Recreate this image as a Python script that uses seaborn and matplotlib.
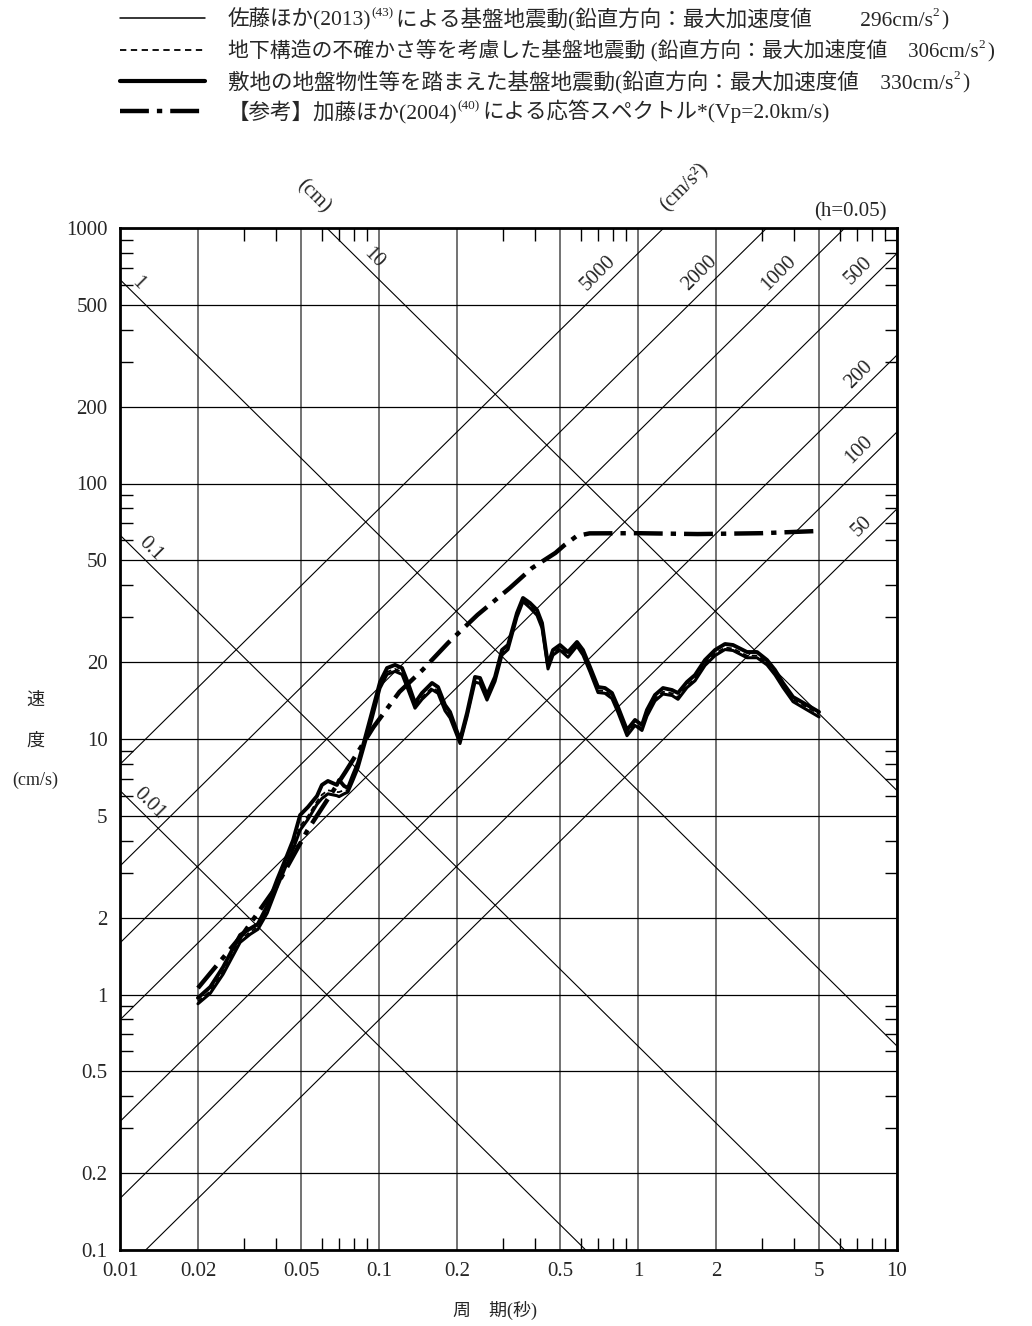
import numpy as np
import pandas as pd
import matplotlib
matplotlib.use("Agg")
import matplotlib.pyplot as plt
import seaborn as sns
from matplotlib.lines import Line2D
from matplotlib.ticker import NullFormatter

# ---------------- data ----------------
period = [0.020, 0.0223, 0.0250, 0.0291, 0.0318, 0.0341, 0.0370, 0.0404, 0.0441, 0.0466,
          0.0496, 0.0532, 0.0576, 0.0602, 0.0635, 0.0688, 0.0701, 0.0733, 0.0759, 0.0794,
          0.0830, 0.0875, 0.0940, 0.1009, 0.1074, 0.1153, 0.1227, 0.1294, 0.1377, 0.1466,
          0.1602, 0.1690, 0.1798, 0.1880, 0.2055, 0.2187, 0.2348, 0.2455, 0.2612, 0.2805,
          0.2985, 0.3149, 0.3410, 0.3597, 0.3828, 0.4074, 0.4259, 0.4493, 0.4697, 0.4996,
          0.5366, 0.5813, 0.6132, 0.6527, 0.7008, 0.7456, 0.7933, 0.8370, 0.9067, 0.9736,
          1.036, 1.083, 1.163, 1.249, 1.353, 1.427, 1.546, 1.660, 1.814, 1.983,
          2.167, 2.327, 2.635, 2.881, 3.149, 3.381, 3.629, 3.968, 4.493, 5.0]

sv_site_330 = [0.97, 1.07, 1.28, 1.71, 1.81, 1.89, 2.22, 2.81, 3.49, 4.02,
               5.04, 5.42, 5.98, 6.61, 6.85, 6.61, 6.91, 6.55, 6.43, 7.23,
               8.06, 9.73, 12.76, 16.7, 18.96, 19.5, 18.96, 16.57, 13.83, 15.14,
               16.57, 15.97, 13.59, 12.76, 9.91, 12.64, 17.49, 17.33, 14.87, 17.49,
               22.30, 23.33, 31.13, 35.64, 34.07, 31.99, 28.44, 19.48, 22.30, 23.33,
               21.90, 23.97, 22.30, 19.13, 15.97, 15.83, 15.14, 13.34, 10.84, 11.87,
               11.34, 12.99, 14.87, 15.83, 15.55, 15.14, 16.72, 17.80, 20.38, 22.30,
               23.54, 23.33, 21.90, 21.90, 20.38, 18.62, 16.57, 14.60, 13.59, 12.76]

sv_sato_296 = [0.92, 1.01, 1.20, 1.60, 1.72, 1.80, 2.08, 2.62, 3.25, 3.70,
               4.40, 4.85, 5.55, 5.85, 6.10, 6.00, 5.95, 6.10, 6.20, 6.90,
               7.70, 9.30, 12.0, 15.8, 17.9, 18.4, 17.9, 15.6, 13.2, 14.3,
               15.6, 15.1, 12.9, 12.1, 9.6, 12.2, 16.7, 16.5, 14.2, 16.8,
               21.3, 22.4, 30.0, 34.5, 32.6, 30.5, 27.2, 18.8, 21.3, 22.3,
               20.9, 23.1, 21.3, 18.3, 15.2, 15.1, 14.4, 12.7, 10.3, 11.3,
               10.8, 12.3, 14.1, 15.0, 14.8, 14.3, 15.9, 16.9, 19.4, 21.2,
               22.4, 22.2, 20.8, 20.8, 19.5, 17.8, 15.9, 14.0, 13.0, 12.2]

sv_uncert_306 = [0.94, 1.03, 1.23, 1.64, 1.76, 1.84, 2.13, 2.69, 3.33, 3.80,
                 4.55, 5.00, 5.70, 6.05, 6.30, 6.20, 6.20, 6.30, 6.30, 7.05,
                 7.85, 9.50, 12.4, 16.1, 18.3, 18.8, 18.3, 15.9, 13.5, 14.6,
                 15.9, 15.4, 13.2, 12.4, 9.8, 12.4, 17.0, 16.8, 14.5, 17.1,
                 21.7, 22.8, 30.6, 35.1, 33.2, 31.1, 27.7, 19.1, 21.7, 22.7,
                 21.3, 23.5, 21.7, 18.6, 15.5, 15.4, 14.7, 12.9, 10.5, 11.5,
                 11.0, 12.6, 14.4, 15.3, 15.1, 14.6, 16.2, 17.2, 19.8, 21.6,
                 22.8, 22.6, 21.2, 21.2, 19.9, 18.2, 16.2, 14.3, 13.3, 12.5]

kato_period = [0.02, 0.03, 0.04, 0.053, 0.074, 0.095, 0.12, 0.147, 0.185, 0.24,
               0.32, 0.39, 0.48, 0.52, 0.58, 0.65, 1.0, 1.7, 3.0, 5.0]
kato_sv = [1.06, 1.74, 2.63, 4.4, 7.4, 11.1, 15.3, 18.6, 23.8, 30.6,
           39.0, 46.7, 53.5, 57.4, 62.3, 63.8, 63.9, 63.4, 63.9, 65.2]

x_ticks = [0.01, 0.02, 0.05, 0.1, 0.2, 0.5, 1, 2, 5, 10]
x_ticklabels = ["0.01", "0.02", "0.05", "0.1", "0.2", "0.5", "1", "2", "5", "10"]
y_ticks = [0.1, 0.2, 0.5, 1, 2, 5, 10, 20, 50, 100, 200, 500, 1000]
y_ticklabels = ["0.1", "0.2", "0.5", "1", "2", "5", "10", "20", "50", "100", "200", "500", "1000"]

disp_lines_cm = [0.01, 0.1, 1, 10]
accel_lines_gal = [50, 100, 200, 500, 1000, 2000, 5000]

legend_labels = [
    [("佐藤ほか(2013)", False), ("(43)", True), ("による基盤地震動(鉛直方向：最大加速度値　　 296cm/s", False), ("2", True), (")", False)],
    [("地下構造の不確かさ等を考慮した基盤地震動 (鉛直方向：最大加速度値　306cm/s", False), ("2", True), (")", False)],
    [("敷地の地盤物性等を踏まえた基盤地震動(鉛直方向：最大加速度値　330cm/s", False), ("2", True), (")", False)],
    [("【参考】加藤ほか(2004)", False), ("(40)", True), ("による応答スペクトル*(Vp=2.0km/s)", False)],
]
legend_sizes = [15.5, 15.0, 15.5, 15.5]

# ---------------- style ----------------
sns.set_style("white")
FAM = ["Liberation Serif", "Noto Sans CJK JP"]
plt.rcParams["font.family"] = FAM

W, H = 1032, 1326
fig = plt.figure(figsize=(W / 100, H / 100), dpi=100)
ax = fig.add_axes([120 / W, 1 - 1250 / H, 777 / W, 1022 / H])
ax.set_xscale("log")
ax.set_yscale("log")
ax.set_xlim(0.01, 10)
ax.set_ylim(0.1, 1000)

# grid
ax.set_xticks(x_ticks)
ax.set_xticklabels(x_ticklabels)
ax.set_yticks(y_ticks)
ax.set_yticklabels(y_ticklabels)
minor_x = [m * d for d in [0.01, 0.1, 1] for m in [3, 4, 6, 7, 8, 9]]
minor_y = [m * d for d in [0.1, 1, 10, 100] for m in [3, 4, 6, 7, 8, 9]]
ax.set_xticks(minor_x, minor=True)
ax.set_yticks(minor_y, minor=True)
ax.xaxis.set_minor_formatter(NullFormatter())
ax.yaxis.set_minor_formatter(NullFormatter())
ax.xaxis.grid(True, which="major", color="#5a5a5a", lw=1.2)
ax.yaxis.grid(True, which="major", color="black", lw=0.9)
ax.set_axisbelow(True)
ax.tick_params(which="major", length=0, labelsize=15, pad=9)
ax.tick_params(which="minor", direction="in", length=9, width=1.0, color="black",
               top=True, right=True, bottom=True, left=True)
for sp in ax.spines.values():
    sp.set_linewidth(2.0)
    sp.set_color("black")

# tripartite diagonal lines
tt = np.array([0.01, 10.0])
for d in disp_lines_cm:
    ax.plot(tt, 2 * np.pi * d / tt, color="black", lw=0.8, zorder=1.5)
for a in accel_lines_gal:
    ax.plot(tt, a * tt / (2 * np.pi), color="black", lw=0.8, zorder=1.5)

# curves
sns.lineplot(x=kato_period, y=kato_sv, ax=ax, color="black", lw=3.2, sort=False,
             estimator=None, linestyle=(0, (6.5, 1.8, 1.2, 1.8)), zorder=4)
sns.lineplot(x=period, y=sv_site_330, ax=ax, color="black", lw=2.8, sort=False,
             estimator=None, zorder=5)
sns.lineplot(x=period, y=sv_sato_296, ax=ax, color="black", lw=2.2, sort=False,
             estimator=None, zorder=5)
sns.lineplot(x=period, y=sv_uncert_306, ax=ax, color="black", lw=1.3, sort=False,
             estimator=None, linestyle=(0, (3, 2)), zorder=5)
ax.set_xlabel("")
ax.set_ylabel("")
if ax.get_legend() is not None:
    ax.get_legend().remove()


def ftext(x, y, s, **kw):
    return fig.text(x / W, 1 - y / H, s, **kw)


# diagonal labels
for s, x, y in [("1", 138, 283), ("10", 374, 258), ("0.1", 151, 549), ("0.01", 149, 804)]:
    ftext(x, y, s, rotation=-45, ha="center", va="center", fontsize=15)
ftext(313, 196, "(cm)", rotation=-45, ha="center", va="center", fontsize=15)
for s, x, y in [("5000", 598, 273), ("2000", 700, 273), ("1000", 779, 273), ("500", 859, 271),
                ("200", 859, 375), ("100", 859, 450), ("50", 862, 526)]:
    ftext(x, y, s, rotation=45, ha="center", va="center", fontsize=15)
ftext(685, 188, "(cm/s²)", rotation=45, ha="center", va="center", fontsize=15)
ftext(850, 212, "(h=0.05)", ha="center", va="center", fontsize=15)

# axis labels
ftext(35, 700, "速", ha="center", va="center", fontsize=13)
ftext(35, 741, "度", ha="center", va="center", fontsize=13)
ftext(35, 780, "(cm/s)", ha="center", va="center", fontsize=13)
ftext(495, 1310, "周　期(秒)", ha="center", va="center", fontsize=13)

# legend (manual)
rows_y = [18, 50, 81, 111]
styles = [dict(lw=1.1, ls="-"),
          dict(lw=1.3, ls=(0, (3.5, 2.5))),
          dict(lw=3.0, ls="-"),
          dict(lw=3.2, ls=(0, (6.5, 1.8, 1.2, 1.8)))]
for yy, st in zip(rows_y, styles):
    fig.add_artist(Line2D([120 / W, 205 / W], [1 - yy / H, 1 - yy / H],
                          transform=fig.transFigure, color="black", **st))

renderer = fig.canvas.get_renderer()
for yy, parts, fs in zip(rows_y, legend_labels, legend_sizes):
    x = 228.0
    for s, sup in parts:
        if sup:
            t = fig.text(x / W, 1 - (yy + 7 - 9) / H, s, fontsize=9.5, va="baseline", ha="left")
        else:
            t = fig.text(x / W, 1 - (yy + 7) / H, s, fontsize=fs, va="baseline", ha="left")
        bb = t.get_window_extent(renderer)
        x += bb.width + (2 if sup else 0)

fig.savefig("out.png", dpi=100)
